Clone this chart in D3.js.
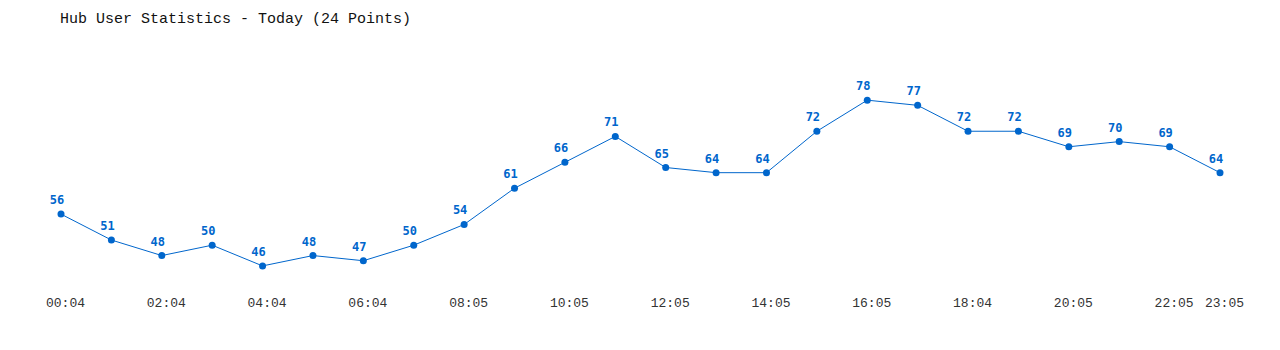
<!DOCTYPE html>
<html>
<head>
<meta charset="utf-8">
<script src="https://cdn.jsdelivr.net/npm/d3@7"></script>
<style>
  body { margin: 0; background: #fff; }
  svg { display: block; }
</style>
</head>
<body>
<svg id="chart" width="1280" height="350"></svg>
<script>
// data
var times = ["00:04","01:04","02:04","03:04","04:04","05:04","06:04","07:04","08:05","09:05","10:05","11:05",
             "12:05","13:05","14:05","15:05","16:05","17:05","18:04","19:04","20:05","21:05","22:05","23:05"];
var users = [56, 51, 48, 50, 46, 48, 47, 50, 54, 61, 66, 71, 65, 64, 64, 72, 78, 77, 72, 72, 69, 70, 69, 64];
var tickLabels = ["00:04","02:04","04:04","06:04","08:05","10:05","12:05","14:05","16:05","18:04","20:05","22:05","23:05"];

var svg = d3.select("#chart");
var blue = "#0066cc";

svg.append("text")
    .attr("x", 60)
    .attr("y", 23)
    .attr("font-family", "Liberation Mono, DejaVu Sans Mono, monospace")
    .attr("font-size", 15)
    .attr("fill", "#111")
    .text("Hub User Statistics - Today (24 Points)");

var x = d3.scalePoint()
    .domain(times)
    .range([61, 1220]);

var y = d3.scaleLinear()
    .domain([40, 90])
    .range([297, 38]);

var line = d3.line()
    .x(function(d, i) { return x(times[i]); })
    .y(function(d) { return y(d); });

svg.append("path")
    .datum(users)
    .attr("fill", "none")
    .attr("stroke", blue)
    .attr("stroke-width", 1)
    .attr("d", line);

svg.selectAll(".dot")
    .data(users)
  .enter().append("circle")
    .attr("class", "dot")
    .attr("r", 3.5)
    .attr("cx", function(d, i) { return x(times[i]); })
    .attr("cy", function(d) { return y(d); })
    .attr("fill", blue);

svg.selectAll(".val")
    .data(users)
  .enter().append("text")
    .attr("class", "val")
    .attr("x", function(d, i) { return x(times[i]) - 4; })
    .attr("y", function(d) { return y(d) - 10; })
    .attr("text-anchor", "middle")
    .attr("font-family", "DejaVu Sans Mono, monospace")
    .attr("font-weight", "bold")
    .attr("font-size", 12)
    .attr("fill", blue)
    .text(function(d) { return d; });

var xAxis = d3.axisBottom(x)
    .tickValues(tickLabels)
    .tickSize(0)
    .tickPadding(0);

var gx = svg.append("g")
    .attr("transform", "translate(4,298)")
    .call(xAxis);
gx.select(".domain").remove();
gx.selectAll("text")
    .attr("dy", "0.71em")
    .attr("font-family", "Liberation Mono, DejaVu Sans Mono, monospace")
    .attr("font-size", 13)
    .attr("fill", "#333");
</script>
</body>
</html>
